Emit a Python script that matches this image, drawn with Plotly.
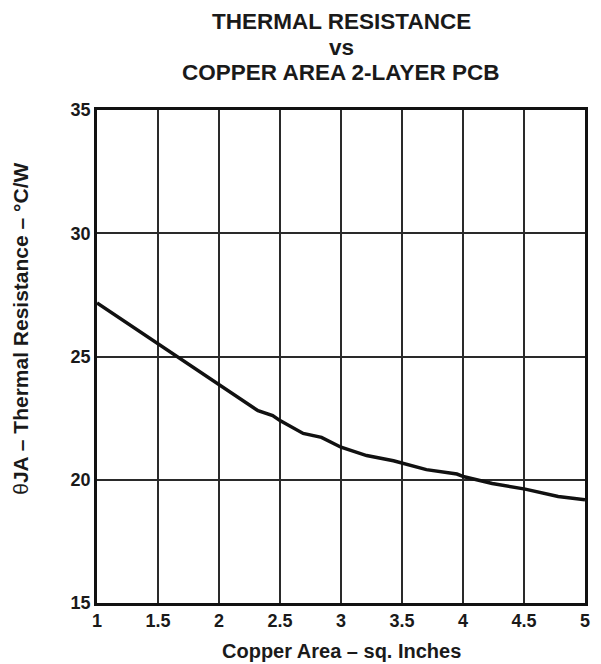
import plotly.graph_objects as go

copper_area = [1.0, 1.5, 2.0, 2.2, 2.32, 2.44, 2.5, 2.69, 2.84, 3.0, 3.21, 3.43, 3.70, 3.95, 4.01, 4.24, 4.51, 4.78, 5.0]
theta_ja = [27.17, 25.52, 23.89, 23.2, 22.8, 22.6, 22.4, 21.88, 21.72, 21.32, 20.98, 20.77, 20.41, 20.23, 20.12, 19.85, 19.62, 19.32, 19.19]

x_ticks = [1, 1.5, 2, 2.5, 3, 3.5, 4, 4.5, 5]
y_ticks = [15, 20, 25, 30, 35]
title_lines = ["THERMAL RESISTANCE", "vs", "COPPER AREA 2-LAYER PCB"]

# page has an 8px body margin; figure laid out in its own pixel coords
W, H = 593, 656
L, R, T, B = 89, 11, 102, 61
PW, PH = W - L - R, H - T - B


def pxx(px):
    return (px - L) / PW


def pxy(py):
    return (H - B - py) / PH


fig = go.Figure()
fig.add_trace(go.Scatter(x=copper_area, y=theta_ja, mode="lines",
                         line=dict(color="#111111", width=3.5), showlegend=False))

font_family = "Liberation Sans, Arial, sans-serif"
ink = "#1a1a1a"
annotations = []
for text, yc in zip(title_lines, [13, 39, 64]):
    annotations.append(dict(text=f"<b>{text}</b>", xref="paper", yref="paper",
                            x=pxx(336), y=pxy(yc), xanchor="center", yanchor="middle",
                            showarrow=False, font=dict(size=22.5, family=font_family, color=ink)))
annotations.append(dict(text="<b>Copper Area – sq. Inches</b>", xref="paper", yref="paper",
                        x=pxx(336), y=pxy(643), xanchor="center", yanchor="middle",
                        showarrow=False, font=dict(size=20, family=font_family, color=ink)))
annotations.append(dict(text="θ<b>JA – Thermal Resistance – °C/W</b>", xref="paper", yref="paper",
                        x=pxx(11), y=pxy(321), xanchor="center", yanchor="middle", textangle=-90,
                        showarrow=False, font=dict(size=21, family=font_family, color=ink)))

fig.update_layout(
    width=W, height=H,
    margin=dict(l=L, r=R, t=T, b=B),
    paper_bgcolor="white", plot_bgcolor="white",
    font=dict(family=font_family, color=ink),
    annotations=annotations,
)
fig.update_xaxes(range=[1, 5], tickvals=x_ticks, ticktext=[f"<b>{t:g}</b>" for t in x_ticks],
                 showgrid=True, gridcolor="#2a2a2a", gridwidth=1.5,
                 showline=True, linecolor="#111111", linewidth=2.5, mirror=True,
                 ticks="", tickfont=dict(size=18), zeroline=False)
fig.update_yaxes(range=[15, 35], tickvals=y_ticks, ticktext=[f"<b>{t}</b>" for t in y_ticks],
                 showgrid=True, gridcolor="#2a2a2a", gridwidth=1.5,
                 showline=True, linecolor="#111111", linewidth=2.5, mirror=True,
                 ticks="", tickfont=dict(size=18), zeroline=False)

fig.write_html("out.html")
